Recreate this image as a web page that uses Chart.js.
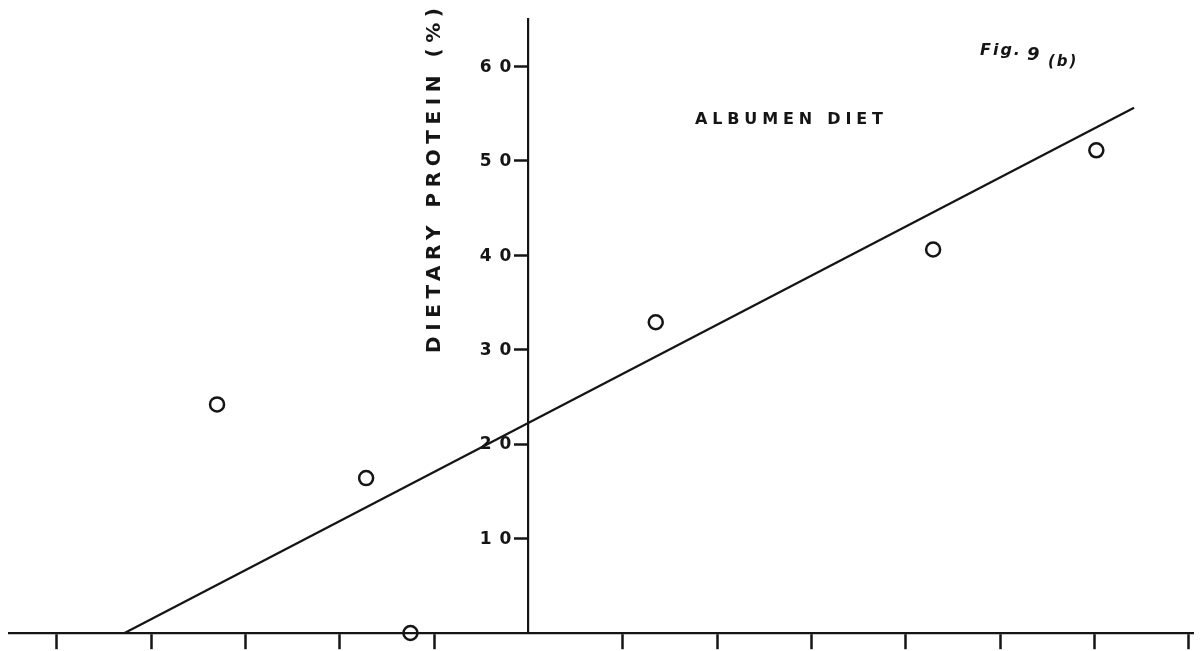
<!DOCTYPE html>
<html>
<head>
<meta charset="utf-8">
<title>Albumen diet – dietary protein</title>
<script src="https://cdn.jsdelivr.net/npm/chart.js@4"></script>
<style>
  html, body { margin: 0; padding: 0; background: #fff; }
  canvas { display: block; }
</style>
</head>
<body>
<canvas id="chart" width="1203" height="651"></canvas>
<script>
// Observed values (open circles)
const pointsX = [-3.30, -1.72, -1.25, 1.35, 4.29, 6.02];
const pointsY = [24.2, 16.4, 0.0, 32.9, 40.6, 51.1];

// Fitted straight line, end points
const fitX = [-4.28, 6.42];
const fitY = [0.0, 55.6];

// Axis ticks
const xTicks = [-5, -4, -3, -2, -1, 1, 2, 3, 4, 5, 6, 7];
const yTicks = [10, 20, 30, 40, 50, 60];

// Text
const yTitle = 'DIETARY PROTEIN (%)';
const dietLabel = 'ALBUMEN DIET';
const figLabel = 'Fig.';
const figNumber = '9';
const figSub = '(b)';

const INK = '#151515';

// Draws text with even letter spacing so that it spans a given width
function spacedText(ctx, text, x, y, font, width) {
  ctx.font = font;
  ctx.letterSpacing = '0px';
  const w = ctx.measureText(text).width;
  const gap = (width - w) / (text.length - 1);
  ctx.letterSpacing = gap + 'px';
  ctx.textAlign = 'left';
  ctx.fillText(text, x, y);
  ctx.letterSpacing = '0px';
}

// Draws text ending at x, with a fixed gap between characters
function rightSpaced(ctx, text, x, y, gap) {
  ctx.letterSpacing = '0px';
  const w = ctx.measureText(text).width + gap * (text.length - 1);
  ctx.letterSpacing = gap + 'px';
  ctx.textAlign = 'left';
  ctx.fillText(text, x - w, y);
  ctx.letterSpacing = '0px';
}

const noSize = (scale, key) => {
  scale[key] = 0;
  scale.paddingLeft = scale.paddingRight = scale.paddingTop = scale.paddingBottom = 0;
};

// Tick labels of the vertical axis, placed left of its tick marks
const yTickLabels = {
  id: 'yTickLabels',
  afterDraw(chart) {
    const ctx = chart.ctx;
    const ys = chart.scales.y;
    const x0 = chart.scales.x.getPixelForValue(0);
    ctx.save();
    ctx.fillStyle = INK;
    ctx.textBaseline = 'middle';
    ctx.font = 'bold 17px "DejaVu Sans"';
    ys.ticks.forEach(t => {
      rightSpaced(ctx, String(t.value), x0 - 17, ys.getPixelForValue(t.value) + 1, 8);
    });
    ctx.restore();
  }
};

const annotations = {
  id: 'annotations',
  afterDraw(chart) {
    const ctx = chart.ctx;
    ctx.save();
    ctx.fillStyle = INK;
    ctx.textBaseline = 'middle';

    // rotated axis title
    ctx.save();
    ctx.translate(435, 353);
    ctx.rotate(-Math.PI / 2);
    spacedText(ctx, yTitle, 0, 0, 'bold 20px "DejaVu Sans"', 345);
    ctx.restore();

    spacedText(ctx, dietLabel, 695, 120, 'bold 16px "DejaVu Sans"', 188);

    ctx.textBaseline = 'alphabetic';
    ctx.textAlign = 'left';
    ctx.font = 'italic bold 16px "DejaVu Sans"';
    ctx.letterSpacing = '2px';
    ctx.fillText(figLabel, 980, 55);
    ctx.font = 'italic bold 18px "DejaVu Sans"';
    ctx.letterSpacing = '0px';
    ctx.fillText(figNumber, 1027, 60);
    ctx.font = 'italic bold 15px "DejaVu Sans"';
    ctx.letterSpacing = '2px';
    ctx.fillText(figSub, 1048, 66);
    ctx.restore();
  }
};

new Chart(document.getElementById('chart'), {
  type: 'scatter',
  data: {
    datasets: [
      {
        data: pointsX.map((x, i) => ({ x, y: pointsY[i] })),
        pointStyle: 'circle',
        pointRadius: 7,
        pointHoverRadius: 7,
        pointBorderWidth: 2.5,
        pointBackgroundColor: 'rgba(0,0,0,0)',
        pointBorderColor: INK,
        showLine: false,
        clip: false
      },
      {
        data: fitX.map((x, i) => ({ x, y: fitY[i] })),
        showLine: true,
        borderColor: INK,
        borderWidth: 2.3,
        pointRadius: 0,
        pointHoverRadius: 0,
        clip: false
      }
    ]
  },
  options: {
    responsive: false,
    devicePixelRatio: 1,
    animation: false,
    events: [],
    layout: { padding: { left: 6, right: 8, top: 19, bottom: 18 } },
    plugins: {
      legend: { display: false },
      tooltip: { enabled: false }
    },
    scales: {
      x: {
        type: 'linear',
        min: -5.5,
        max: 7.05,
        position: { y: 0 },
        afterBuildTicks: s => { s.ticks = xTicks.map(v => ({ value: v })); },
        afterFit: s => noSize(s, 'height'),
        grid: { drawOnChartArea: false, drawTicks: true, tickLength: 15, tickWidth: 2.5, tickColor: INK },
        border: { display: true, color: INK, width: 2.2 },
        ticks: { display: false }
      },
      y: {
        type: 'linear',
        min: 0,
        max: 65,
        position: { x: 0 },
        afterBuildTicks: s => { s.ticks = yTicks.map(v => ({ value: v })); },
        afterFit: s => noSize(s, 'width'),
        grid: { drawOnChartArea: false, drawTicks: true, tickLength: 13, tickWidth: 2.5, tickColor: INK },
        border: { display: true, color: INK, width: 2.2 },
        ticks: { display: false }
      }
    }
  },
  plugins: [yTickLabels, annotations]
});
</script>
</body>
</html>
